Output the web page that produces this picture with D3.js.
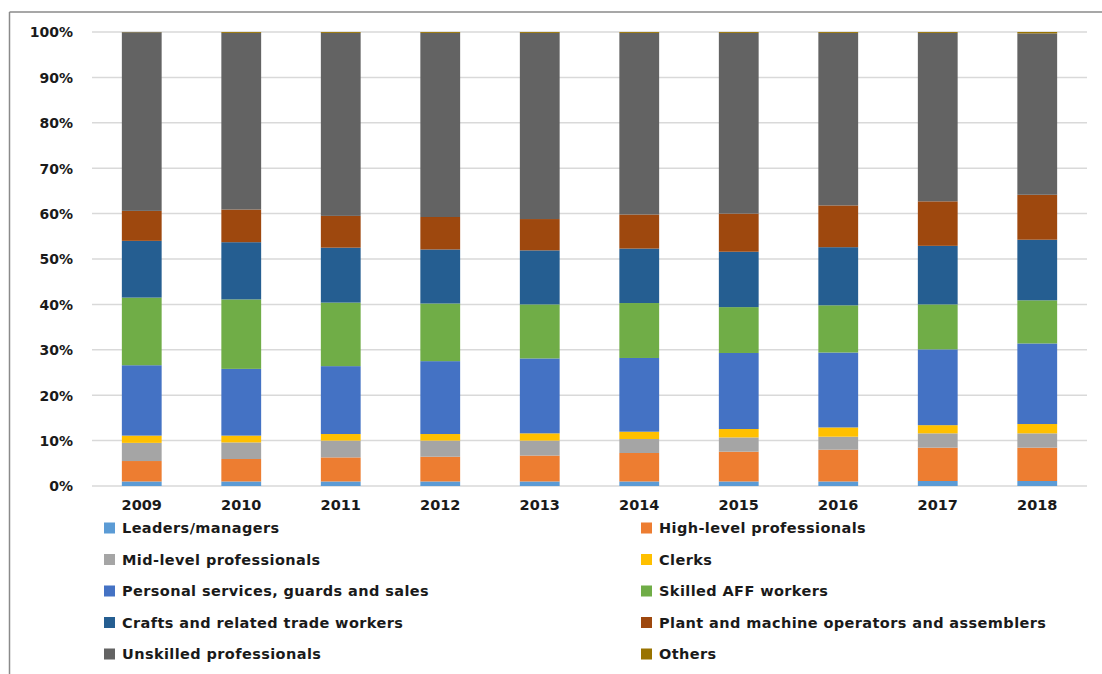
<!DOCTYPE html>
<html>
<head>
<meta charset="utf-8">
<script src="https://cdn.jsdelivr.net/npm/d3@7"></script>
<style>
  body { margin: 0; background: #fff; }
  svg text { font-family: "DejaVu Sans", Verdana, sans-serif; font-weight: bold; fill: #1a1a1a; }
</style>
</head>
<body>
<svg id="chart" width="1102" height="674"></svg>
<script>
const years = ["2009", "2010", "2011", "2012", "2013", "2014", "2015", "2016", "2017", "2018"];

const categories = [
  "Leaders/managers", "High-level professionals", "Mid-level professionals", "Clerks",
  "Personal services, guards and sales", "Skilled AFF workers", "Crafts and related trade workers",
  "Plant and machine operators and assemblers", "Unskilled professionals", "Others"
];

const colors = ["#5B9BD5", "#ED7D31", "#A5A5A5", "#FFC000", "#4472C4", "#70AD47", "#255E91", "#9E480E", "#636363", "#997300"];

// share (%) per year, same order as categories
const leaders   = [1.0, 1.0, 1.0, 1.0, 1.0, 1.0, 1.0, 1.0, 1.1, 1.1];
const highLevel = [4.5, 4.95, 5.3, 5.45, 5.7, 6.27, 6.56, 7.0, 7.35, 7.35];
const midLevel  = [4.0, 3.65, 3.7, 3.55, 3.3, 3.08, 3.14, 2.86, 3.15, 3.15];
const clerks    = [1.6, 1.5, 1.45, 1.45, 1.6, 1.61, 1.85, 2.04, 1.8, 2.05];
const personal  = [15.5, 14.7, 14.95, 16.05, 16.5, 16.24, 16.75, 16.5, 16.7, 17.75];
const skilled   = [14.9, 15.3, 14.0, 12.7, 11.9, 12.1, 10.1, 10.4, 9.9, 9.5];
const crafts    = [12.5, 12.6, 12.1, 11.9, 11.9, 12.0, 12.2, 12.8, 12.9, 13.35];
const plant     = [6.6, 7.2, 7.0, 7.15, 6.9, 7.5, 8.4, 9.2, 9.8, 9.9];
const unskilled = [39.35, 38.9, 40.3, 40.55, 41.0, 40.0, 39.8, 38.0, 37.1, 35.55];
const others    = [0.05, 0.2, 0.2, 0.2, 0.2, 0.2, 0.2, 0.2, 0.2, 0.3];

const series = [leaders, highLevel, midLevel, clerks, personal, skilled, crafts, plant, unskilled, others];

const yTicks = [0, 10, 20, 30, 40, 50, 60, 70, 80, 90, 100];

const table = years.map((y, i) => {
  const row = { year: y };
  categories.forEach((c, k) => row[c] = series[k][i]);
  return row;
});

const svg = d3.select("#chart");

// outer frame (only top and left edges show)
svg.append("line").attr("x1", 9.5).attr("x2", 1102).attr("y1", 12).attr("y2", 12)
  .attr("stroke", "#8a8a8a").attr("stroke-width", 1.5);
svg.append("line").attr("x1", 9.5).attr("x2", 9.5).attr("y1", 12).attr("y2", 674)
  .attr("stroke", "#8a8a8a").attr("stroke-width", 1.5);

const plotLeft = 92, plotRight = 1087, plotTop = 32, plotBottom = 486;

const x = d3.scaleBand().domain(years).range([plotLeft, plotRight]).paddingInner(0.6).paddingOuter(0.3);
const y = d3.scaleLinear().domain([0, 1]).range([plotBottom, plotTop]);

// grid
svg.append("g").selectAll("line").data(yTicks).join("line")
  .attr("x1", plotLeft).attr("x2", plotRight)
  .attr("y1", d => y(d / 100)).attr("y2", d => y(d / 100))
  .attr("stroke", "#d9d9d9").attr("stroke-width", 1.5);

const stack = d3.stack().keys(categories).offset(d3.stackOffsetExpand);
const stacked = stack(table);

svg.append("g").selectAll("g").data(stacked).join("g")
  .attr("fill", (d, i) => colors[i])
  .selectAll("rect").data(d => d).join("rect")
  .attr("x", d => x(d.data.year))
  .attr("width", x.bandwidth())
  .attr("y", d => y(d[1]))
  .attr("height", d => y(d[0]) - y(d[1]));

// y axis labels
const yAxis = d3.axisLeft(y).tickValues(yTicks.map(d => d / 100)).tickFormat(d3.format(".0%")).tickSize(0).tickPadding(0);
svg.append("g").attr("transform", "translate(73,0)").call(yAxis)
  .call(g => g.select(".domain").remove())
  .selectAll("text").attr("font-size", "14px").attr("dy", "0.35em").attr("font-family", null);

// x axis labels
const xAxis = d3.axisBottom(x).tickSize(0).tickPadding(0);
svg.append("g").attr("transform", `translate(0,${plotBottom})`).call(xAxis)
  .call(g => g.select(".domain").remove())
  .selectAll("text").attr("font-size", "14.5px").attr("y", 14).attr("dy", "0.71em").attr("font-family", null);

// legend, two columns
const legend = svg.append("g");
const item = legend.selectAll("g").data(categories).join("g")
  .attr("transform", (d, i) => `translate(${i % 2 === 0 ? 104 : 641},${528 + Math.floor(i / 2) * 31.5})`);
item.append("rect").attr("x", 0).attr("y", -5.5).attr("width", 11).attr("height", 11)
  .attr("fill", (d, i) => colors[i]);
item.append("text").attr("x", 18).attr("dy", "0.36em")
  .attr("font-size", "14.5px").attr("letter-spacing", "0.4px")
  .text(d => d);
</script>
</body>
</html>
